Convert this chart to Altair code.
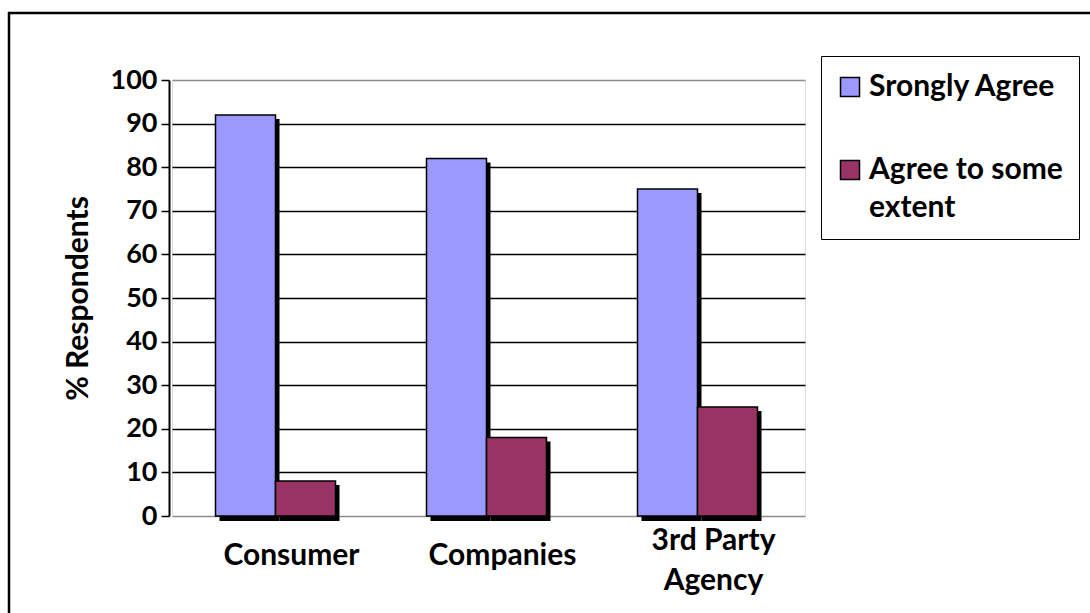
import altair as alt
import pandas as pd

categories = ["Consumer", "Companies", "3rd Party Agency"]
series_names = ["Srongly Agree", "Agree to some extent"]
strongly_agree = [92, 82, 75]
agree_some_extent = [8, 18, 25]
y_ticks = [0, 10, 20, 30, 40, 50, 60, 70, 80, 90, 100]
series_colors = ["#9999FF", "#993366"]

rows = []
for c, a, b in zip(categories, strongly_agree, agree_some_extent):
    rows.append({"category": c, "series": series_names[0], "value": a})
    rows.append({"category": c, "series": series_names[1], "value": b})
df = pd.DataFrame(rows)

FONT = "Lato"
W, H = 633, 436

x_enc = alt.X(
    "category:N",
    sort=categories,
    scale=alt.Scale(paddingInner=0, paddingOuter=0),
    axis=alt.Axis(
        title=None, labelAngle=0, ticks=False, domain=False,
        labelFont=FONT, labelFontSize=30, labelFontWeight="bold", labelColor="black",
        labelBaseline={"condition": {"test": "datum.value == '3rd Party Agency'", "value": "bottom"}, "value": "middle"},
        labelPadding=39, labelOffset=14, labelLineHeight=40,
        labelExpr="datum.value == '3rd Party Agency' ? ['3rd Party', 'Agency'] : datum.value",
    ),
)
y_enc = alt.Y(
    "value:Q",
    stack=None,
    scale=alt.Scale(domain=[0, 100], nice=False),
    axis=alt.Axis(
        values=y_ticks, title="% Respondents",
        titleFont=FONT, titleFontSize=30, titleFontWeight="bold", titleColor="black",
        titlePadding=17,
        labelFont=FONT, labelFontSize=27, labelFontWeight="bold", labelColor="black",
        labelPadding=4, tickSize=8, tickWidth=1.5, tickColor="black",
        domainColor="black", domainWidth=2, offset=3,
        grid=True, gridWidth=1.5,
        gridColor={"condition": {"test": "datum.value == 0 || datum.value == 100", "value": "#8c8c8c"}, "value": "black"},
    ),
)
color_enc = alt.Color(
    "series:N",
    scale=alt.Scale(domain=series_names, range=series_colors),
    legend=alt.Legend(
        title=None, orient="none", legendX=649, legendY=-24,
        labelExpr="datum.label == 'Agree to some extent' ? ['Agree to some', 'extent'] : datum.label",
        strokeColor="black", fillColor="white", padding=16,
        labelFont=FONT, labelFontSize=30, labelFontWeight="bold", labelColor="black",
        labelLimit=400, symbolType="square", symbolSize=361, symbolOffset=-2,
        symbolStrokeColor="black", symbolStrokeWidth=1.5, labelOffset=4,
        rowPadding=53,
    ),
)

base = alt.Chart(df)
offsets = [-32, 28]

shadows = []
bars = []
for s, off in zip(series_names, offsets):
    shadows.append(
        base.transform_filter(alt.datum.series == s)
        .mark_bar(size=60, xOffset=off + 4, yOffset=4, y2Offset=5, color="black")
        .encode(x=x_enc, y=y_enc, y2=alt.Y2(datum=0))
    )
    bars.append(
        base.transform_filter(alt.datum.series == s)
        .mark_bar(size=60, xOffset=off, stroke="black", strokeWidth=1.5)
        .encode(x=x_enc, y=y_enc, color=color_enc)
    )

frame_df = pd.DataFrame({"f": [0]})
frame_top = alt.Chart(frame_df).mark_rule(color="black", strokeWidth=2.5).encode(
    x=alt.value(8 - 172), x2=alt.value(1090 - 172), y=alt.value(13 - 80)
)
frame_left = alt.Chart(frame_df).mark_rule(color="black", strokeWidth=2.5).encode(
    x=alt.value(9 - 172), y=alt.value(12 - 80), y2=alt.value(613 - 80)
)

chart = alt.layer(*shadows, *bars, frame_top, frame_left).properties(
    width=W, height=H,
    padding={"left": 172, "top": 80, "right": 285, "bottom": 97},
    autosize=alt.AutoSizeParams(type="none"),
).configure_view(
    stroke="#8c8c8c", strokeWidth=2
).configure_legend(
    strokeColor="black", strokeWidth=2
).configure(
    background="white",
    style={"guide-label": {"lineHeight": 38}},
)

chart.save("out.html", embed_options={"renderer": "svg", "actions": False})
